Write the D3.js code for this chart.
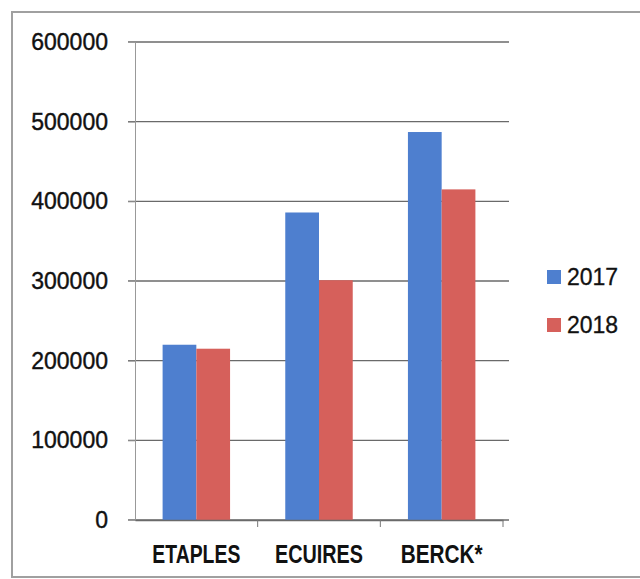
<!DOCTYPE html>
<html>
<head>
<meta charset="utf-8">
<script src="https://cdn.jsdelivr.net/npm/d3@7"></script>
<style>
  body { margin: 0; background: #fff; }
  svg { display: block; }
</style>
</head>
<body>
<svg id="chart" width="640" height="579"></svg>
<script>
// données
const sites = ['ETAPLES', 'ECUIRES', 'BERCK*']
const years = ['2017', '2018']
const values2017 = [220000, 386000, 487000]
const values2018 = [215000, 301000, 415000]
const yTicks = [0, 100000, 200000, 300000, 400000, 500000, 600000]

const colors = { '2017': '#4e7fcf', '2018': '#d6605b' }
const rows = sites.map((s, i) => ({ site: s, '2017': values2017[i], '2018': values2018[i] }))

const svg = d3.select('#chart')

// cadre du graphique
svg.append('rect')
  .attr('x', 12).attr('y', 12)
  .attr('width', 640).attr('height', 565)
  .attr('fill', 'none')
  .attr('stroke', '#a0a0a0')
  .attr('stroke-width', 2)

const x0 = d3.scaleBand().domain(sites).range([135, 503])
const gap = x0.bandwidth() * 0.225
const x1 = d3.scaleBand().domain(years).range([gap, x0.bandwidth() - gap])
const y = d3.scaleLinear().domain([0, 600000]).range([520, 42])

// grille horizontale
svg.append('g')
  .selectAll('line')
  .data(yTicks)
  .enter()
  .append('line')
  .attr('x1', 128)
  .attr('x2', 509)
  .attr('y1', d => y(d))
  .attr('y2', d => y(d))
  .attr('stroke', '#6a6a6a')
  .attr('stroke-width', 1.3)

// axe Y
const yAxis = svg.append('g')
  .attr('transform', 'translate(135,0)')
  .call(d3.axisLeft(y).tickValues(yTicks).tickSize(7).tickPadding(20).tickFormat(d3.format('d')))
yAxis.select('.domain').attr('stroke', '#999')
yAxis.selectAll('.tick line').attr('stroke', '#999')
yAxis.selectAll('text')
  .attr('font-family', 'Liberation Sans, Arial, sans-serif')
  .attr('font-size', 23)
  .attr('fill', '#111')
  .attr('stroke', '#111')
  .attr('stroke-width', 0.4)

// barres
const groups = svg.append('g')
  .selectAll('g')
  .data(rows)
  .enter()
  .append('g')
  .attr('transform', d => `translate(${x0(d.site)},0)`)
groups.selectAll('rect')
  .data(d => years.map(k => ({ key: k, value: d[k] })))
  .enter()
  .append('rect')
  .attr('x', d => x1(d.key))
  .attr('width', x1.bandwidth())
  .attr('y', d => y(d.value))
  .attr('height', d => y(0) - y(d.value))
  .attr('fill', d => colors[d.key])

// axe X
const xAxis = svg.append('g')
  .attr('transform', 'translate(0,520)')
  .call(d3.axisBottom(x0).tickSize(0).tickPadding(25))
xAxis.select('.domain').attr('stroke', '#6a6a6a').attr('stroke-width', 1.3)
xAxis.selectAll('text')
  .attr('font-family', 'Liberation Sans, Arial, sans-serif')
  .attr('font-weight', 'bold')
  .attr('font-size', 25)
  .attr('fill', '#111')
  .attr('textLength', d => d === 'BERCK*' ? 82 : 88)
  .attr('lengthAdjust', 'spacingAndGlyphs')
// petites graduations entre catégories
svg.append('g')
  .selectAll('line')
  .data(sites)
  .enter()
  .append('line')
  .attr('x1', d => x0(d) + x0.bandwidth())
  .attr('x2', d => x0(d) + x0.bandwidth())
  .attr('y1', 520)
  .attr('y2', 527)
  .attr('stroke', '#777')

// légende
const legend = svg.append('g')
  .selectAll('g')
  .data(years)
  .enter()
  .append('g')
  .attr('transform', (d, i) => `translate(547,${270 + i * 48})`)
legend.append('rect')
  .attr('width', 14)
  .attr('height', 14)
  .attr('fill', d => colors[d])
legend.append('text')
  .attr('x', 20)
  .attr('y', 7)
  .attr('dy', '0.36em')
  .attr('font-family', 'Liberation Sans, Arial, sans-serif')
  .attr('font-size', 23)
  .attr('fill', '#111')
  .attr('stroke', '#111')
  .attr('stroke-width', 0.3)
  .text(d => d)
</script>
</body>
</html>
